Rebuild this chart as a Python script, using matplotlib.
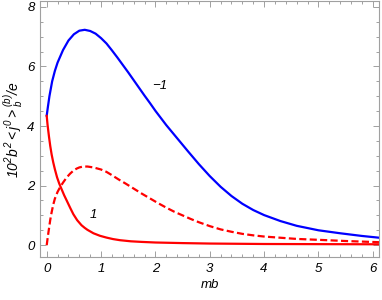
import matplotlib
matplotlib.use('Agg')
import matplotlib.pyplot as plt
from matplotlib.ticker import MultipleLocator

# values
x_blue = [0, 0.02, 0.05, 0.1, 0.15, 0.2, 0.3, 0.4, 0.5, 0.6, 0.7, 0.8, 0.9, 1.0, 1.1, 1.2, 1.3, 1.4, 1.5, 1.6,
          1.7, 1.8, 1.9, 2.0, 2.1, 2.2, 2.3, 2.4, 2.6, 2.8, 3.0, 3.2, 3.4, 3.6, 3.8, 4.0, 4.3, 4.6, 5.0, 5.4,
          5.8, 6.12]
y_blue = [4.35, 4.62, 5.0, 5.5, 5.85, 6.13, 6.55, 6.87, 7.08, 7.2, 7.23, 7.19, 7.1, 6.95, 6.77, 6.54, 6.3, 6.05,
          5.8, 5.54, 5.28, 5.02, 4.77, 4.51, 4.27, 4.03, 3.81, 3.59, 3.15, 2.72, 2.32, 1.96, 1.65, 1.39, 1.18,
          1.01, 0.81, 0.65, 0.5, 0.4, 0.31, 0.25]

x_red = [0, 0.015, 0.03, 0.042, 0.065, 0.09, 0.12, 0.15, 0.19, 0.23, 0.276, 0.32, 0.37, 0.43, 0.49, 0.56,
         0.64, 0.7, 0.75, 0.86, 0.98, 1.1, 1.22, 1.35, 1.55, 1.75, 2.0, 2.5, 3.0, 4.0, 5.0, 6.12]
y_red = [4.34, 4.05, 3.82, 3.64, 3.33, 3.05, 2.78, 2.55, 2.28, 2.07, 1.87, 1.68, 1.49, 1.26, 1.04, 0.84,
         0.67, 0.58, 0.515, 0.4, 0.315, 0.255, 0.205, 0.167, 0.13, 0.11, 0.09, 0.07, 0.055, 0.04, 0.035, 0.03]

x_dash = [0, 0.02, 0.042, 0.065, 0.09, 0.12, 0.15, 0.2, 0.25, 0.3, 0.37, 0.43, 0.49, 0.55, 0.6, 0.67, 0.75,
          0.86, 1.0, 1.1, 1.2, 1.32, 1.45, 1.6, 1.75, 1.9, 2.05, 2.2, 2.35, 2.5, 2.65, 2.8, 3.0, 3.2, 3.4,
          3.6, 3.8, 4.0, 4.3, 4.6, 5.0, 5.5, 6.12]
y_dash = [0, 0.28, 0.56, 0.85, 1.1, 1.36, 1.56, 1.79, 1.96, 2.1, 2.28, 2.4, 2.5, 2.57, 2.61, 2.64, 2.64,
          2.61, 2.54, 2.46, 2.35, 2.21, 2.07, 1.9, 1.73, 1.57, 1.41, 1.26, 1.12, 1.0, 0.88, 0.77, 0.64, 0.53,
          0.45, 0.38, 0.33, 0.29, 0.25, 0.21, 0.18, 0.14, 0.1]

labels = ['\u22121', '1']
label_pos = [(2.08, 5.33), (0.86, 1.03)]

plt.rcParams['font.family'] = ['Liberation Sans', 'DejaVu Sans']
plt.rcParams['mathtext.fontset'] = 'custom'
plt.rcParams['mathtext.rm'] = 'Liberation Sans:italic'
plt.rcParams['mathtext.it'] = 'Liberation Sans:italic'

fig = plt.figure(figsize=(3.82, 3.0), dpi=100)
ax = fig.add_axes([0.1055, 0.142, 0.8875, 0.855])

ax.plot(x_blue, y_blue, color=(0, 0, 1), lw=1.6)
ax.plot(x_red, y_red, color=(1, 0, 0), lw=1.6)
ax.plot(x_dash, y_dash, color=(1, 0, 0), lw=1.6, dashes=(3.2, 1.5))

for t, (tx, ty) in zip(labels, label_pos):
    ax.text(tx, ty, t, fontsize=9.5, style='italic', ha='center', va='center')

ax.set_xlim(-0.118, 6.12)
ax.set_ylim(-0.41, 8.2)
ax.xaxis.set_major_locator(MultipleLocator(1))
ax.xaxis.set_minor_locator(MultipleLocator(0.2))
ax.yaxis.set_major_locator(MultipleLocator(2))
ax.yaxis.set_minor_locator(MultipleLocator(0.5))

gray = '#a0a0a0'
for s in ax.spines.values():
    s.set_color(gray)
    s.set_linewidth(0.8)
ax.tick_params(which='both', direction='in', top=True, right=True, color=gray, width=0.7,
               labelsize=9.5, pad=4)
ax.tick_params(which='major', length=4)
ax.tick_params(which='minor', length=2)
for lb in ax.get_xticklabels() + ax.get_yticklabels():
    lb.set_fontstyle('italic')

ax.set_xlabel('mb', fontsize=9.5, style='italic', labelpad=3)
ax.set_ylabel(r'$10^2b^2{<}j^0{>}_b^{(b)}/e$', fontsize=10, labelpad=2)

fig.savefig('out.png', dpi=100)
